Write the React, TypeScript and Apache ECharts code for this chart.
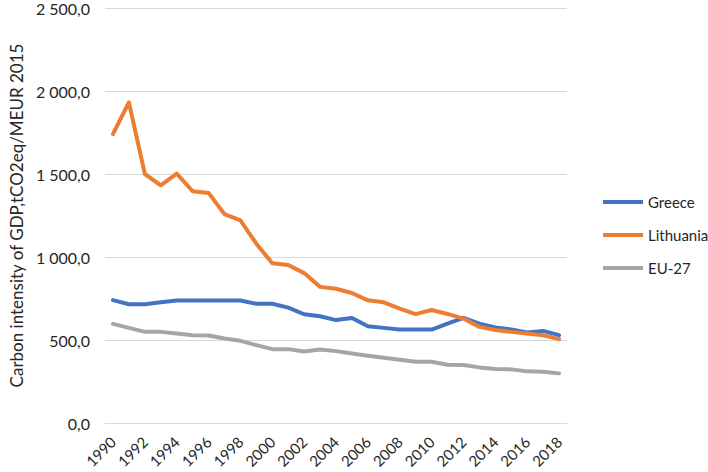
import React, { useEffect, useRef } from "react";
import * as echarts from "echarts";

const years: string[] = [
  "1990","1991","1992","1993","1994","1995","1996","1997","1998","1999",
  "2000","2001","2002","2003","2004","2005","2006","2007","2008","2009",
  "2010","2011","2012","2013","2014","2015","2016","2017","2018",
];

const greece: number[] = [
  740, 715, 715, 728, 738, 738, 738, 738, 738, 718,
  718, 695, 655, 643, 620, 633, 583, 573, 563, 563,
  563, 599, 633, 599, 575, 563, 545, 555, 529,
];

const lithuania: number[] = [
  1741, 1931, 1500, 1432, 1502, 1396, 1386, 1258, 1220, 1080,
  962, 952, 903, 820, 809, 783, 739, 727, 689, 656,
  681, 657, 629, 579, 560, 549, 539, 529, 505,
];

const eu27: number[] = [
  597, 573, 549, 549, 539, 529, 527, 509, 495, 469,
  445, 445, 431, 443, 433, 419, 405, 393, 381, 369,
  369, 351, 349, 335, 325, 323, 311, 309, 299,
];

const yTicks = { min: 0, max: 2500, interval: 500 };

function fmt(v: number): string {
  const s = v.toFixed(1);
  const [int, dec] = s.split(".");
  const withSep = int.replace(/\B(?=(\d{3})+(?!\d))/g, " ");
  return withSep + "," + dec;
}

export default function App() {
  const ref = useRef<HTMLDivElement>(null);
  useEffect(() => {
    if (!ref.current) return;
    const chart = echarts.init(ref.current, null, { renderer: "svg" });
    const font = "Lato, 'Open Sans', sans-serif";
    const mk = (name: string, data: number[], color: string) => ({
      name,
      type: "line",
      data,
      symbol: "none",
      showSymbol: false,
      lineStyle: { width: 4, color, cap: "round", join: "round" },
      itemStyle: { color },
    });
    chart.setOption({
      animation: false,
      backgroundColor: "#ffffff",
      textStyle: { fontFamily: font },
      grid: { left: 95, right: 141, top: 7, bottom: 49, containLabel: false },
      legend: {
        orient: "vertical",
        left: 598,
        top: 189,
        icon: "rect",
        itemWidth: 40,
        itemHeight: 4,
        itemGap: 17,
        textStyle: { fontSize: 15, lineHeight: 16, color: "#262626", fontFamily: font },
        data: ["Greece", "Lithuania", "EU-27"],
      },
      xAxis: {
        type: "category",
        data: years,
        boundaryGap: true,
        axisLine: { show: true, lineStyle: { color: "#d9d9d9", width: 1 } },
        axisTick: { show: false },
        axisLabel: {
          interval: 1,
          rotate: 45,
          fontSize: 15,
          color: "#262626",
          margin: 16,
          fontFamily: font,
        },
      },
      yAxis: {
        type: "value",
        min: yTicks.min,
        max: yTicks.max,
        interval: yTicks.interval,
        name: "Carbon intensity of GDP,tCO2eq/MEUR 2015",
        nameLocation: "middle",
        nameGap: 75,
        nameTextStyle: { fontSize: 17, color: "#262626", fontFamily: font },
        axisLine: { show: false },
        axisTick: { show: false },
        axisLabel: {
          formatter: (v: number) => fmt(v),
          fontSize: 16,
          lineHeight: 14,
          color: "#262626",
          margin: 15,
          fontFamily: font,
        },
        splitLine: { show: true, lineStyle: { color: "#d9d9d9", width: 1 } },
      },
      series: [
        mk("Greece", greece, "#4472C4"),
        mk("Lithuania", lithuania, "#ED7D31"),
        mk("EU-27", eu27, "#A5A5A5"),
      ],
    });
    return () => chart.dispose();
  }, []);
  return <div ref={ref} style={{ width: 708, height: 472, position: "absolute", left: 0, top: 0 }} />;
}
